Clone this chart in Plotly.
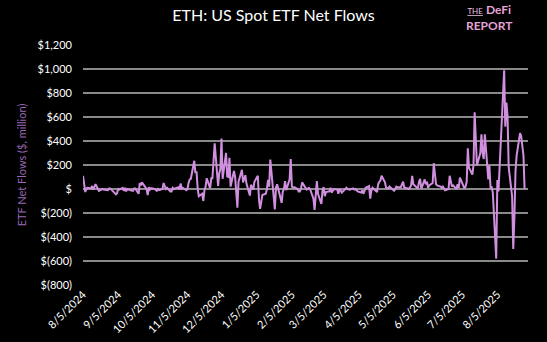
import pandas as pd
import plotly.graph_objects as go

holidays = ["2024-09-02", "2024-11-28", "2024-12-25", "2025-01-01", "2025-01-09",
            "2025-01-20", "2025-02-17", "2025-04-18", "2025-05-26", "2025-06-19", "2025-07-04"]

flows_2024_08 = [110, 40, -25, 5, 10, 5, 25, -5, 15, 40, -15, -10, -5, 0, -5, -5, -10, 5, 5, -5]
flows_2024_09 = [-45, -35, 5, -5, 10, -15, 10, -20, 0, -10, -15, -15, 5, 5, -40, 50, 30, 55, 40, 0]
flows_2024_10 = [-50, 15, -5, 8, 0, -10, -15, 0, -10, 0, 50, 25, 0, 10, -20, -20, 10, 0, 5, 15, -5, 45, 5]
flows_2024_11 = [10, -10, 0, 50, 80, 85, 235, 135, 145, 5, -60, -40, -100, -10, 20, 90, 5, 90, 90, 380]
flows_2024_12 = [25, 130, 165, 420, 85, 300, 105, 100, 260, 20, 150, 100, 0, -155, 60, 160, 55, 115, 45, -55, 35]
flows_2025_01 = [-5, 60, 110, -85, -165, -50, -40, 0, 75, 20, 245, -170, 10, 40, 0, -115, -20, 0, 65, -10]
flows_2025_02 = [80, 250, 20, 10, 15, 0, -20, -20, 0, 55, -5, 0, 10, 0, -80, -175, -60, 65, -40]
flows_2025_03 = [-125, -10, 15, -60, -25, -20, 10, -30, -10, 0, -5, -40, 0, -10, -30, 5, 10, 0, -5, -5, 5]
flows_2025_04 = [-5, 0, -10, -20, -30, -10, -40, -20, 10, 25, -80, -15, 10, -25, 40, 60, 70, 110, 55, 10, 5]
flows_2025_05 = [5, 20, -10, -15, 0, 20, 15, 15, 40, 60, 10, 10, 0, 10, 30, 110, 40, 5, 60, 85, 0]
flows_2025_06 = [80, 40, 60, 10, 30, 50, 215, 125, 40, 30, 20, 10, 20, -10, 0, 110, 60, 20, 30, 0]
flows_2025_07 = [40, 10, 95, 5, 20, 60, 340, 180, 120, 200, 640, 400, 195, 300, 455, 300, 250, 455, 80, 195, 10, 15]
flows_2025_08 = [-30, -580, 75, -20, 190, 455, 990, 520, 720, 605, 180, -60, -500, -240, 150, 280, 465, 440, 350, 280, 0]

months = [
    ("2024-08-05", "2024-08-31", flows_2024_08),
    ("2024-09-01", "2024-09-30", flows_2024_09),
    ("2024-10-01", "2024-10-31", flows_2024_10),
    ("2024-11-01", "2024-11-30", flows_2024_11),
    ("2024-12-01", "2024-12-31", flows_2024_12),
    ("2025-01-01", "2025-01-31", flows_2025_01),
    ("2025-02-01", "2025-02-28", flows_2025_02),
    ("2025-03-01", "2025-03-31", flows_2025_03),
    ("2025-04-01", "2025-04-30", flows_2025_04),
    ("2025-05-01", "2025-05-31", flows_2025_05),
    ("2025-06-01", "2025-06-30", flows_2025_06),
    ("2025-07-01", "2025-07-31", flows_2025_07),
    ("2025-08-01", "2025-08-31", flows_2025_08),
]

x_tick_labels = ["8/5/2024", "9/5/2024", "10/5/2024", "11/5/2024", "12/5/2024", "1/5/2025",
                 "2/5/2025", "3/5/2025", "4/5/2025", "5/5/2025", "6/5/2025", "7/5/2025", "8/5/2025"]
y_tick_values = [-800, -600, -400, -200, 0, 200, 400, 600, 800, 1000, 1200]

dates, values = [], []
for start, end, vals in months:
    d = [t for t in pd.bdate_range(start, end) if t.strftime("%Y-%m-%d") not in holidays]
    if len(d) != len(vals):
        raise ValueError(f"{start}: {len(d)} dates vs {len(vals)} values")
    dates += d
    values += vals


def fmt_money(v):
    if v == 0:
        return "$"
    if v < 0:
        return f"$({abs(v):,})"
    return f"${v:,}"


fig = go.Figure()
fig.add_trace(go.Scatter(
    x=dates, y=values, mode="lines",
    line=dict(color="#d18fe0", width=2),
    hoverinfo="x+y",
))

fig.update_layout(
    width=547, height=342,
    paper_bgcolor="#000000", plot_bgcolor="#000000",
    margin=dict(l=83, r=19, t=45, b=57, autoexpand=False),
    showlegend=False,
    font=dict(family="Lato, sans-serif", color="#ffffff", size=11),
    title=dict(text="ETH: US Spot ETF Net Flows", x=0.5, xanchor="center",
               y=1 - 15 / 342, yanchor="middle",
               font=dict(size=16, color="#ffffff", family="Lato, sans-serif")),
)

fig.update_xaxes(
    type="date",
    range=["2024-08-05", "2025-09-01"],
    tickvals=pd.to_datetime(x_tick_labels, format="%m/%d/%Y"),
    ticktext=x_tick_labels,
    tickangle=-45,
    automargin=False,
    showgrid=False, zeroline=False, showline=False,
    tickfont=dict(size=11, color="#ffffff"),
)
fig.update_yaxes(
    range=[-800, 1200],
    tickvals=y_tick_values,
    ticktext=[fmt_money(v) for v in y_tick_values],
    automargin=False,
    showgrid=True, gridcolor="#8a8a8a", gridwidth=1.5,
    zeroline=False, showline=False,
    ticks="", ticklabelstandoff=10,
    tickfont=dict(size=11, color="#ffffff"),
    title=dict(text="ETF Net Flows ($, million)", font=dict(size=11, color="#9a68b3"), standoff=8),
)

# logo text (single block so lines never collide)
fig.add_annotation(
    xref="paper", yref="paper", x=(489 - 83) / 445, y=1 + (45 - 18) / 240,
    text=("<span style='font-size:8px;color:#e8c3e0'><u>THE</u></span> <b>DeFi</b>"
          "<br><b>REPORT</b>"),
    showarrow=False, align="center", borderpad=0,
    font=dict(size=12, color="#e3a3d6", family="Lato"),
    xanchor="center", yanchor="middle",
)

fig.write_html("out.html")
